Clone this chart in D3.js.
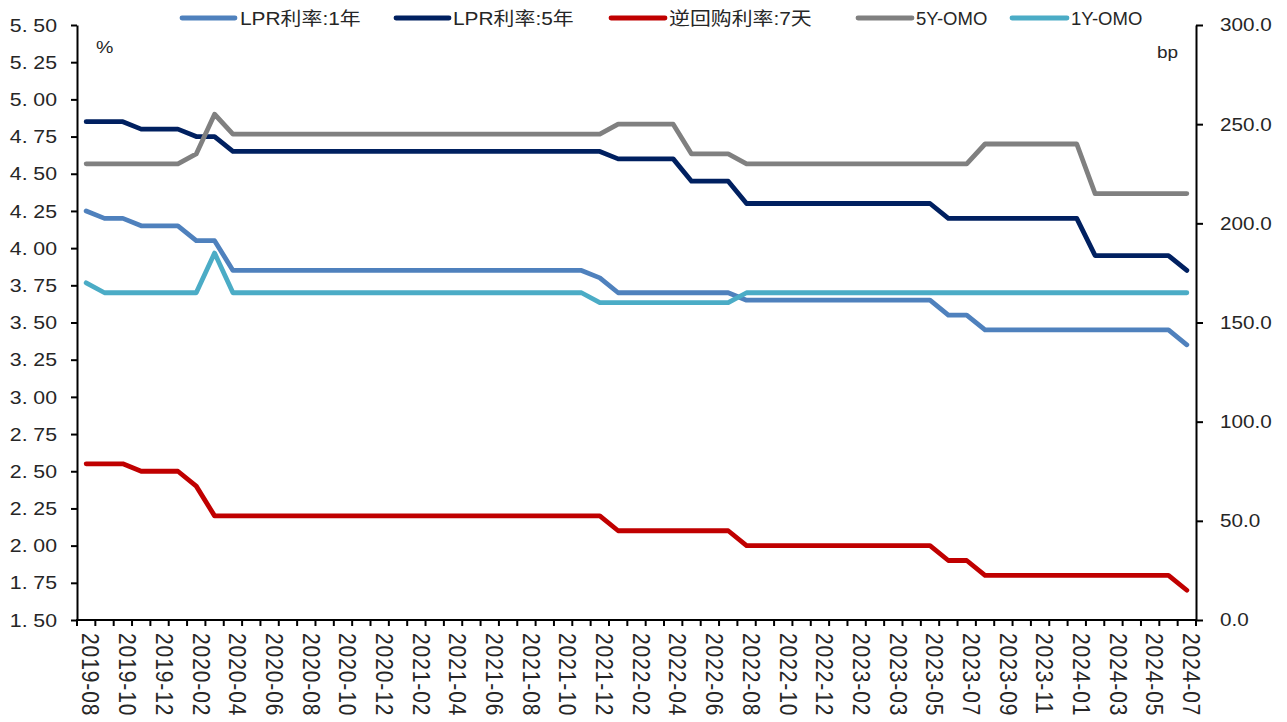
<!DOCTYPE html>
<html>
<head>
<meta charset="utf-8">
<script src="https://cdn.jsdelivr.net/npm/d3@7"></script>
<style>
  body { margin: 0; background: #fff; }
  svg { display: block; }
</style>
</head>
<body>
<svg id="chart" width="1287" height="722"></svg>
<script>
// Monthly observations (one extra observation sits in early 2023)
const categories = [
  "2019-08","2019-09","2019-10","2019-11","2019-12","2020-01","2020-02","2020-03",
  "2020-04","2020-05","2020-06","2020-07","2020-08","2020-09","2020-10","2020-11",
  "2020-12","2021-01","2021-02","2021-03","2021-04","2021-05","2021-06","2021-07",
  "2021-08","2021-09","2021-10","2021-11","2021-12","2022-01","2022-02","2022-03",
  "2022-04","2022-05","2022-06","2022-07","2022-08","2022-09","2022-10","2022-11",
  "2022-12","2023-01","2023-02","2023-02","2023-03","2023-04","2023-05","2023-06",
  "2023-07","2023-08","2023-09","2023-10","2023-11","2023-12","2024-01","2024-02",
  "2024-03","2024-04","2024-05","2024-06","2024-07"
];

// Left axis (%)
const lpr1y = [
  4.25,4.20,4.20,4.15,4.15,4.15,4.05,4.05,
  3.85,3.85,3.85,3.85,3.85,3.85,3.85,3.85,
  3.85,3.85,3.85,3.85,3.85,3.85,3.85,3.85,
  3.85,3.85,3.85,3.85,3.80,3.70,3.70,3.70,
  3.70,3.70,3.70,3.70,3.65,3.65,3.65,3.65,
  3.65,3.65,3.65,3.65,3.65,3.65,3.65,3.55,
  3.55,3.45,3.45,3.45,3.45,3.45,3.45,3.45,
  3.45,3.45,3.45,3.45,3.35
];
const lpr5y = [
  4.85,4.85,4.85,4.80,4.80,4.80,4.75,4.75,
  4.65,4.65,4.65,4.65,4.65,4.65,4.65,4.65,
  4.65,4.65,4.65,4.65,4.65,4.65,4.65,4.65,
  4.65,4.65,4.65,4.65,4.65,4.60,4.60,4.60,
  4.60,4.45,4.45,4.45,4.30,4.30,4.30,4.30,
  4.30,4.30,4.30,4.30,4.30,4.30,4.30,4.20,
  4.20,4.20,4.20,4.20,4.20,4.20,4.20,3.95,
  3.95,3.95,3.95,3.95,3.85
];
const repo7d = [
  2.55,2.55,2.55,2.50,2.50,2.50,2.40,2.20,
  2.20,2.20,2.20,2.20,2.20,2.20,2.20,2.20,
  2.20,2.20,2.20,2.20,2.20,2.20,2.20,2.20,
  2.20,2.20,2.20,2.20,2.20,2.10,2.10,2.10,
  2.10,2.10,2.10,2.10,2.00,2.00,2.00,2.00,
  2.00,2.00,2.00,2.00,2.00,2.00,2.00,1.90,
  1.90,1.80,1.80,1.80,1.80,1.80,1.80,1.80,
  1.80,1.80,1.80,1.80,1.70
];

// Right axis (bp)
const spread5y = [
  230,230,230,230,230,230,235,255,
  245,245,245,245,245,245,245,245,
  245,245,245,245,245,245,245,245,
  245,245,245,245,245,250,250,250,
  250,235,235,235,230,230,230,230,
  230,230,230,230,230,230,230,230,
  230,240,240,240,240,240,240,215,
  215,215,215,215,215
];
const spread1y = [
  170,165,165,165,165,165,165,185,
  165,165,165,165,165,165,165,165,
  165,165,165,165,165,165,165,165,
  165,165,165,165,160,160,160,160,
  160,160,160,160,165,165,165,165,
  165,165,165,165,165,165,165,165,
  165,165,165,165,165,165,165,165,
  165,165,165,165,165
];

const leftTicks = [1.50,1.75,2.00,2.25,2.50,2.75,3.00,3.25,3.50,3.75,4.00,4.25,4.50,4.75,5.00,5.25,5.50];
const rightTicks = [0,50,100,150,200,250,300];

const seriesNames = ["LPR利率:1年","LPR利率:5年","逆回购利率:7天","5Y-OMO","1Y-OMO"];

// ---- layout ----
const plot = { left: 77, right: 1196, top: 25, bottom: 620 };
const SX = 1.15;            // horizontal text stretch
const textColor = "#262626";
const fontLatin = "'Liberation Sans', Arial, sans-serif";
const fontCJK = "'Liberation Sans', 'Noto Sans CJK SC', sans-serif";

const svg = d3.select("#chart");

const x = d3.scaleBand().domain(d3.range(categories.length)).range([plot.left, plot.right]);
const cx = i => x(i) + x.bandwidth() / 2;
const yL = d3.scaleLinear().domain([1.5, 5.5]).range([plot.bottom, plot.top]);
const yR = d3.scaleLinear().domain([0, 300]).range([plot.bottom, plot.top]);

// ---- axes ----
const axisStroke = g => g.selectAll("line,path").attr("stroke", "#000").attr("stroke-width", 2);

const gL = svg.append("g").attr("transform", `translate(${plot.left},0)`)
  .call(d3.axisLeft(yL).tickValues(leftTicks).tickSize(6).tickSizeOuter(0).tickFormat(""));
axisStroke(gL);

const gR = svg.append("g").attr("transform", `translate(${plot.right},0)`)
  .call(d3.axisRight(yR).tickValues(rightTicks).tickSize(7).tickSizeOuter(0).tickFormat(""));
axisStroke(gR);

// bottom axis: ticks at category boundaries
const gB = svg.append("g");
gB.append("line")
  .attr("x1", plot.left - 1).attr("x2", plot.right + 1)
  .attr("y1", plot.bottom).attr("y2", plot.bottom)
  .attr("stroke", "#000").attr("stroke-width", 2);
const bounds = d3.range(categories.length).map(i => x(i)).concat([plot.right]);
gB.selectAll("line.tk").data(bounds).join("line").attr("class", "tk")
  .attr("x1", d => d).attr("x2", d => d)
  .attr("y1", plot.bottom).attr("y2", plot.bottom + 6)
  .attr("stroke", "#000").attr("stroke-width", 2);

// left tick labels ("5. 50" style spacing after the point)
const fmt2 = d3.format(".2f");
leftTicks.forEach(v => {
  const s = fmt2(v).split(".");
  const t = svg.append("text")
    .attr("transform", `translate(57,${yL(v)}) scale(${SX},1)`)
    .attr("text-anchor", "end").attr("dy", "0.36em")
    .attr("font-family", fontLatin).attr("font-size", 18.5).attr("fill", textColor);
  t.append("tspan").text(s[0] + ".");
  t.append("tspan").attr("dx", 5).text(s[1]);
});

// right tick labels
const fmt1 = d3.format(".1f");
rightTicks.forEach(v => {
  svg.append("text")
    .attr("transform", `translate(1220,${yR(v)}) scale(${SX},1)`)
    .attr("dy", "0.36em")
    .attr("font-family", fontLatin).attr("font-size", 18).attr("fill", textColor)
    .text(fmt1(v));
});

// category labels, every second one, rotated to read downward
categories.forEach((c, i) => {
  if (i % 2 !== 0) return;
  svg.append("text")
    .attr("transform", `translate(${cx(i) + 5},633) scale(${SX},1) rotate(90)`)
    .attr("dy", "0.36em")
    .attr("font-family", fontLatin).attr("font-size", 21).attr("letter-spacing", 0.9)
    .attr("fill", textColor)
    .text(c);
});

// unit labels
svg.append("text").attr("transform", `translate(96,53) scale(${SX},1)`)
  .attr("font-family", fontLatin).attr("font-size", 17).attr("fill", textColor).text("%");
svg.append("text").attr("transform", `translate(1157,58) scale(${SX},1)`)
  .attr("font-family", fontLatin).attr("font-size", 16.5).attr("fill", textColor).text("bp");

// ---- lines ----
const series = [
  { name: seriesNames[0], values: lpr1y,    scale: yL, color: "#4F81BD" },
  { name: seriesNames[1], values: lpr5y,    scale: yL, color: "#002060" },
  { name: seriesNames[2], values: repo7d,   scale: yL, color: "#C00000" },
  { name: seriesNames[3], values: spread5y, scale: yR, color: "#808080" },
  { name: seriesNames[4], values: spread1y, scale: yR, color: "#4BACC6" }
];

series.forEach(s => {
  const line = d3.line().x((d, i) => cx(i)).y(d => s.scale(d));
  svg.append("path")
    .datum(s.values)
    .attr("d", line)
    .attr("fill", "none")
    .attr("stroke", s.color)
    .attr("stroke-width", 4.8)
    .attr("stroke-linejoin", "round")
    .attr("stroke-linecap", "round");
});

// ---- legend ----
const legendPos = [
  { x1: 182, x2: 235, tx: 240 },
  { x1: 396, x2: 449, tx: 453 },
  { x1: 611, x2: 665, tx: 669 },
  { x1: 858, x2: 912, tx: 916 },
  { x1: 1012, x2: 1067, tx: 1071 }
];
const legendY = 18;
series.forEach((s, i) => {
  const p = legendPos[i];
  svg.append("line")
    .attr("x1", p.x1).attr("x2", p.x2).attr("y1", legendY).attr("y2", legendY)
    .attr("stroke", s.color).attr("stroke-width", 4.8).attr("stroke-linecap", "round");
  svg.append("text")
    .attr("transform", `translate(${p.tx},${legendY + 1}) scale(${i >= 3 ? 1.0 : 1.13},1)`)
    .attr("dy", "0.35em")
    .attr("font-family", fontCJK).attr("font-size", 18.5).attr("fill", textColor)
    .text(s.name);
});
</script>
</body>
</html>
